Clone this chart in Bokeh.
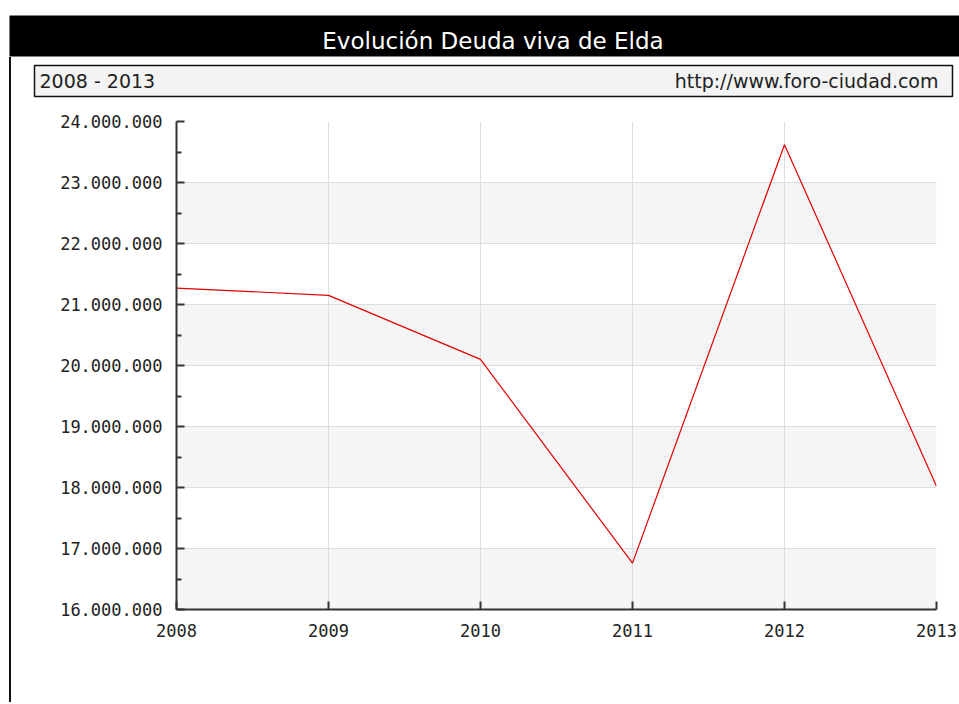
from bokeh.plotting import figure
from bokeh.models import Range1d, FixedTicker, Label
from bokeh.layouts import column, row
from bokeh.embed import file_html
from bokeh.resources import INLINE

# ---- data ----
years = [2008, 2009, 2010, 2011, 2012, 2013]
deuda = [21_270_000, 21_150_000, 20_100_000, 16_760_000, 23_620_000, 18_020_000]
y_ticks = [16_000_000, 17_000_000, 18_000_000, 19_000_000, 20_000_000,
           21_000_000, 22_000_000, 23_000_000, 24_000_000]
y_tick_labels = ["16.000.000", "17.000.000", "18.000.000", "19.000.000", "20.000.000",
                 "21.000.000", "22.000.000", "23.000.000", "24.000.000"]
y_minor = [16_500_000, 17_500_000, 18_500_000, 19_500_000, 20_500_000,
           21_500_000, 22_500_000, 23_500_000]
title_text = "Evolución Deuda viva de Elda"
period_text = "2008 - 2013"
url_text = "http://www.foro-ciudad.com"

# ---- header (black bar) ----
head = figure(width=959, height=57, output_backend="svg", toolbar_location=None,
              x_range=Range1d(0, 950), y_range=Range1d(0, 41),
              x_axis_location=None, y_axis_location=None,
              min_border_top=15, min_border_bottom=1, min_border_left=9, min_border_right=0,
              background_fill_color="black", border_fill_color="white",
              outline_line_color=None)
head.grid.visible = False
head.add_layout(Label(x=483.5, y=16, text=title_text, text_align="center",
                      text_baseline="middle", text_color="white",
                      text_font="DejaVu Sans", text_font_size="23px"))

# ---- subtitle box ----
sub = figure(width=948, height=45, output_backend="svg", toolbar_location=None,
             x_range=Range1d(0, 918), y_range=Range1d(0, 31),
             x_axis_location=None, y_axis_location=None,
             min_border_top=8, min_border_bottom=6, min_border_left=23, min_border_right=7,
             background_fill_color="#f3f3f3", border_fill_color="white",
             outline_line_color="#111111", outline_line_width=1.5)
sub.grid.visible = False
sub.add_layout(Label(x=5, y=15.5, text=period_text, text_align="left",
                     text_baseline="middle", text_color="#222222",
                     text_font="DejaVu Sans", text_font_size="19px"))
sub.add_layout(Label(x=904, y=15.5, text=url_text, text_align="right",
                     text_baseline="middle", text_color="#222222",
                     text_font="DejaVu Sans", text_font_size="19px"))

# ---- main chart ----
p = figure(width=948, height=600, output_backend="svg", toolbar_location=None,
           x_range=Range1d(years[0], years[-1]),
           y_range=Range1d(y_ticks[0], y_ticks[-1]),
           min_border_top=19, min_border_bottom=93, min_border_left=165, min_border_right=23,
           background_fill_color="white", border_fill_color="white",
           outline_line_color=None)

# alternating bands (16-17, 18-19, 20-21, 22-23 shaded)
p.quad(left=years[0], right=years[-1], bottom=y_ticks[0:-1:2], top=y_ticks[1::2],
       fill_color="#f5f5f5", line_color=None, level="image")

p.line(years, deuda, line_color="#e00000", line_width=1.2)

p.xaxis.ticker = FixedTicker(ticks=years)
p.yaxis.ticker = FixedTicker(ticks=y_ticks, minor_ticks=y_minor)
p.yaxis.major_label_overrides = {t: l for t, l in zip(y_ticks, y_tick_labels)}
p.xaxis.major_label_overrides = {y: str(y) for y in years}

for ax in (p.xaxis, p.yaxis):
    ax.axis_line_color = "#333333"
    ax.axis_line_width = 2
    ax.major_tick_line_color = "#333333"
    ax.major_tick_line_width = 2
    ax.major_tick_in = 8
    ax.major_tick_out = 0
    ax.minor_tick_line_color = "#333333"
    ax.minor_tick_line_width = 2
    ax.minor_tick_in = 5
    ax.minor_tick_out = 0
    ax.major_label_text_font = "DejaVu Sans Mono"
    ax.major_label_text_font_size = "17px"
    ax.major_label_text_color = "#222222"
    ax.major_label_standoff = 14
p.xaxis.minor_tick_line_color = None

p.xgrid.grid_line_color = "#dddddd"
p.ygrid.grid_line_color = "#dddddd"

body = column(row(sub, spacing=0), row(p, spacing=0), spacing=0, margin=(0, 0, 0, 9),
              styles={"border-left": "2px solid #111111"})
layout = column(head, body, spacing=0)

open("out.html", "w").write(file_html(layout, INLINE))
